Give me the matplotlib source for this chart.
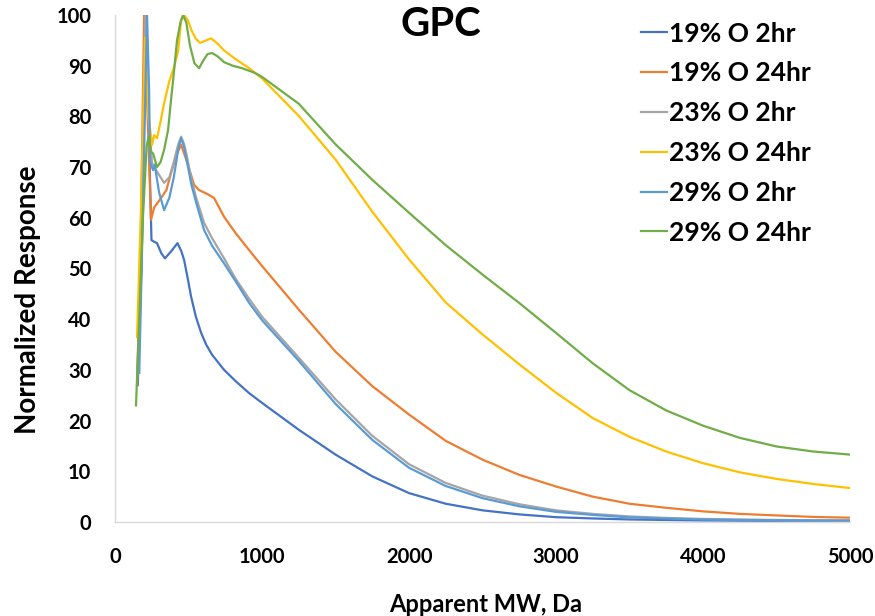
import matplotlib
matplotlib.use('Agg')
import matplotlib.pyplot as plt

plt.rcParams['font.family'] = ['Lato', 'DejaVu Sans']
plt.rcParams['font.weight'] = 'bold'

# values (Apparent MW in Da, normalized response)
x_tail = [1000, 1250, 1500, 1750, 2000, 2250, 2500, 2750, 3000, 3250, 3500,
          3750, 4000, 4250, 4500, 4750, 5000]

# 19% O 2hr
x_19_2 = [155, 180, 210, 232, 248, 265, 286, 315, 340, 385, 425, 450, 470, 495, 518,
          550, 586, 620, 660, 742, 820, 913] + x_tail
y_19_2 = [27, 50, 100, 75, 55.6, 55.3, 55, 53, 52, 53.5, 55, 53.5, 51.7, 48, 44.4,
          40.5, 37.3, 35, 33, 30, 27.8, 25.4,
          23.5, 18.2, 13.3, 9.0, 5.7, 3.6, 2.3, 1.5, 0.95, 0.7, 0.5, 0.4, 0.3, 0.25,
          0.2, 0.17, 0.15]

# 19% O 24hr
x_19_24 = [152, 175, 198, 222, 245, 266, 313, 350, 381, 420, 450, 490, 538, 570, 606,
           640, 674, 742, 820, 913] + x_tail
y_19_24 = [29, 55, 100, 80, 59.6, 62, 63.9, 65.5, 68.8, 72.5, 74.4, 71, 66.5, 65.5, 65,
           64.5, 63.9, 60.2, 57, 53.6,
           50.5, 41.9, 33.6, 26.8, 21.2, 16.0, 12.3, 9.3, 7.0, 5.0, 3.6, 2.8, 2.1,
           1.6, 1.3, 1.0, 0.85]

# 23% O 2hr
x_23_2 = [150, 175, 208, 228, 252, 279, 334, 370, 400, 430, 450, 470, 490, 520, 552,
          606, 660, 742, 820, 913] + x_tail
y_23_2 = [27, 50, 100, 80, 70.8, 69.4, 66.9, 68, 71, 74.5, 76, 74.5, 72, 67.5, 64,
          59, 56, 52, 48, 44,
          40.5, 32.4, 24.2, 17.0, 11.4, 7.7, 5.2, 3.5, 2.3, 1.6, 1.1, 0.8, 0.6,
          0.5, 0.4, 0.35, 0.3]

# 23% O 24hr
x_23_24 = [150, 175, 204, 228, 252, 266, 286, 310, 334, 370, 402, 430, 450, 470, 495,
           520, 550, 579, 620, 654, 700, 742, 820, 913] + x_tail
y_23_24 = [36.5, 60, 95.5, 80, 74.4, 76.3, 75.7, 79, 82.6, 87, 89.7, 93, 99, 100, 99,
           97, 95.3, 94.5, 95, 95.4, 94.3, 93, 91.3, 89.5,
           87.5, 80.1, 71.5, 61.2, 51.8, 43.3, 37.0, 31.1, 25.5, 20.5, 16.8, 13.9,
           11.6, 9.8, 8.5, 7.5, 6.7]

# 29% O 2hr
x_29_2 = [165, 185, 218, 232, 238, 259, 270, 300, 334, 370, 400, 430, 450, 470, 490,
          520, 552, 606, 660, 742, 820, 913] + x_tail
y_29_2 = [29.4, 55, 100, 85, 71, 69.4, 70.5, 65, 61.5, 64, 68, 73.5, 75.7, 74, 71,
          66.5, 63, 57.6, 54.5, 51, 47.5, 43.2,
          39.8, 31.8, 23.3, 16.2, 10.7, 7.1, 4.7, 3.1, 2.0, 1.4, 0.9, 0.7, 0.5,
          0.4, 0.35, 0.3, 0.3]

# 29% O 24hr
x_29_24 = [143, 165, 190, 215, 228, 245, 259, 286, 310, 334, 361, 381, 400, 422, 445,
           463, 485, 510, 540, 572, 600, 630, 661, 700, 742, 800, 865, 950] + x_tail
y_29_24 = [23, 40, 60, 74, 76, 73, 72.7, 70, 71, 73.4, 77.3, 83.2, 88.5, 95, 98.5,
           100, 98.5, 94, 90.5, 89.5, 91, 92.3, 92.5, 91.8, 90.7, 90, 89.5, 88.6,
           87.8, 82.5, 74.5, 67.5, 61.0, 54.6, 48.8, 43.2, 37.3, 31.3, 26.0, 22.0,
           19.0, 16.6, 14.9, 13.9, 13.3]

series = [
    ('19% O 2hr', x_19_2, y_19_2, '#4472C4'),
    ('19% O 24hr', x_19_24, y_19_24, '#ED7D31'),
    ('23% O 2hr', x_23_2, y_23_2, '#A5A5A5'),
    ('23% O 24hr', x_23_24, y_23_24, '#FFC000'),
    ('29% O 2hr', x_29_2, y_29_2, '#5B9BD5'),
    ('29% O 24hr', x_29_24, y_29_24, '#70AD47'),
]

fig = plt.figure(figsize=(8.75, 6.16), dpi=100)
ax = fig.add_axes([115 / 875, 1 - 522 / 616, (850 - 115) / 875, (522 - 15) / 616])

for label, xs, ys, color in series:
    ax.plot(xs, ys, color=color, lw=1.6, label=label, solid_joinstyle='round')

ax.set_xlim(0, 5000)
ax.set_ylim(0, 100)
ax.set_xticks(range(0, 5001, 1000))
ax.set_yticks(range(0, 101, 10))
ax.tick_params(length=0, labelsize=14.5)
ax.tick_params(axis='y', pad=17)
ax.tick_params(axis='x', pad=18)
for lab in ax.get_xticklabels() + ax.get_yticklabels():
    lab.set_fontweight('bold')

for side in ['top', 'right']:
    ax.spines[side].set_visible(False)
for side in ['left', 'bottom']:
    ax.spines[side].set_color('#D9D9D9')
    ax.spines[side].set_linewidth(1.0)

fig.text(441 / 875, 1 - 25 / 616, 'GPC', fontsize=29, fontweight='bold',
         ha='center', va='center')
fig.text(28 / 875, 1 - 300 / 616, 'Normalized Response', fontsize=20,
         fontweight='bold', rotation=90, ha='center', va='center')
fig.text(486 / 875, 1 - 604 / 616, 'Apparent MW, Da', fontsize=17,
         fontweight='bold', ha='center', va='center')

leg = ax.legend(loc='upper left', bbox_to_anchor=(630 / 875, 1 - 11 / 616),
                bbox_transform=fig.transFigure, frameon=False,
                prop={'size': 19, 'weight': 'bold'}, handlelength=1.0,
                handletextpad=0.08, labelspacing=0.6, borderaxespad=0)
for line in leg.get_lines():
    line.set_linewidth(1.6)

fig.savefig('out.png', dpi=100)
